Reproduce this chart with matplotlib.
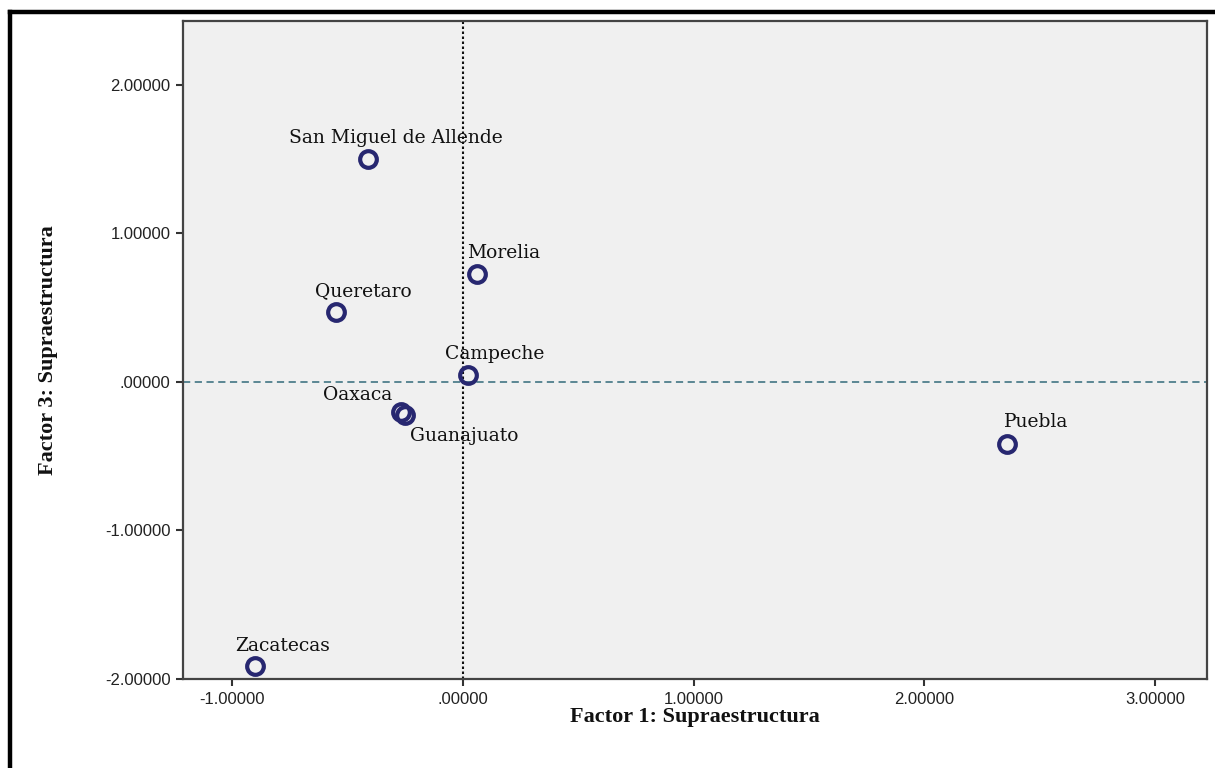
import numpy as np
import matplotlib
matplotlib.use('Agg')
import matplotlib.pyplot as plt
from matplotlib.lines import Line2D
from matplotlib.ticker import FuncFormatter

# datos: puntuaciones factoriales por ciudad
ciudades = ['San Miguel de Allende', 'Morelia', 'Queretaro', 'Campeche',
            'Oaxaca', 'Guanajuato', 'Puebla', 'Zacatecas']
factor1 = [-0.41, 0.06, -0.55, 0.02, -0.27, -0.25, 2.36, -0.90]
factor3 = [1.50, 0.73, 0.47, 0.05, -0.205, -0.225, -0.42, -1.91]

# desplazamiento de etiquetas (pixeles) y alineacion
offsets = [(27, 21), (27, 21), (27, 21), (27, 21),
           (-9, 17), (5, -21), (29, 22), (27, 20)]
aligns = ['center', 'center', 'center', 'center',
          'right', 'left', 'center', 'center']

x_ticks = [-1.0, 0.0, 1.0, 2.0, 3.0]
y_ticks = [-2.0, -1.0, 0.0, 1.0, 2.0]


def fmt_spss(v, pos=None):
    s = '%.5f' % v
    # SPSS quita el cero inicial
    s = s.replace('0.', '.', 1) if s.startswith('0.') else s
    s = s.replace('-0.', '-.', 1) if s.startswith('-0.') else s
    return s


fig = plt.figure(figsize=(12.15, 7.68), dpi=100)
ax = fig.add_axes([183 / 1215, 89 / 768, 1024 / 1215, 658 / 768])
ax.set_facecolor('#f0f0f0')

ax.axvline(0, color='#111111', linestyle=(0, (1.2, 1.2)), linewidth=1.5, zorder=1)
ax.axhline(0, color='#4f7f8c', linestyle=(0, (4, 2.5)), linewidth=1.3, zorder=1)

ax.plot(factor1, factor3, 'o', linestyle='none', markersize=12,
        markerfacecolor='none', markeredgecolor='#272770',
        markeredgewidth=3, zorder=3)

for nombre, x, y, off, ha in zip(ciudades, factor1, factor3, offsets, aligns):
    ax.annotate(nombre, (x, y), xytext=off, textcoords='offset pixels',
                ha=ha, va='center', fontsize=13.5, family='DejaVu Serif',
                color='#111111', zorder=4)

ax.set_xlim(-1.214, 3.225)
ax.set_ylim(-1.99, 2.43)
ax.set_xticks(x_ticks)
ax.set_yticks(y_ticks)
ax.xaxis.set_major_formatter(FuncFormatter(fmt_spss))
ax.yaxis.set_major_formatter(FuncFormatter(fmt_spss))
ax.tick_params(direction='out', length=5, width=1.5, color='#333333',
               labelsize=12, labelcolor='#222222', pad=4)
for lab in ax.get_xticklabels() + ax.get_yticklabels():
    lab.set_family('Liberation Sans')

for sp in ax.spines.values():
    sp.set_color('#444444')
    sp.set_linewidth(1.6)

ax.set_xlabel('Factor 1: Supraestructura', family='Liberation Serif',
              fontweight='bold', fontsize=16, color='#111111')
ax.set_ylabel('Factor 3: Supraestructura', family='Liberation Serif',
              fontweight='bold', fontsize=16, color='#111111')
ax.xaxis.set_label_coords(0.5, -0.043)
ax.yaxis.set_label_coords(-0.122, 0.5)

# marco negro exterior
fig.add_artist(Line2D([9.5 / 1215, 9.5 / 1215], [0, 1 - 11.5 / 768],
                      transform=fig.transFigure, color='black', linewidth=3.2))
fig.add_artist(Line2D([9.5 / 1215, 1], [1 - 11.5 / 768, 1 - 11.5 / 768],
                      transform=fig.transFigure, color='black', linewidth=3.2))

plt.savefig('out.png', dpi=100)
plt.close()
